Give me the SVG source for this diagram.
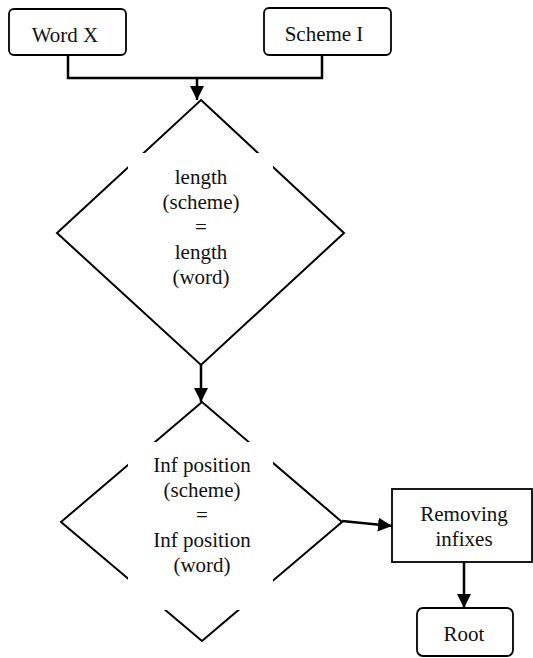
<svg xmlns="http://www.w3.org/2000/svg" width="533" height="658" viewBox="0 0 533 658">
<style>
.box{fill:#fff;stroke:#000;stroke-width:1.8}
.dia{fill:#fff;stroke:#000;stroke-width:2}
.mask{fill:#fff;stroke:none}
.t{font-family:"Liberation Serif","Times New Roman",serif;font-size:21px;fill:#111;text-anchor:middle}
.c{fill:none;stroke:#000;stroke-width:2.5}
</style>
<defs>
<marker id="ah" markerWidth="14" markerHeight="14" viewBox="0 0 14 14" refX="14" refY="7" orient="auto" markerUnits="userSpaceOnUse">
<path d="M0,0 L14,7 L0,14 Z" fill="#000"/>
</marker>
</defs>
<g id="word">
<rect class="box" x="9" y="9" width="117" height="46" rx="5"/>
<text class="t" x="65" y="42">Word X</text>
</g>
<g id="scheme">
<rect class="box" x="264" y="8" width="127" height="47" rx="5"/>
<text class="t" x="324" y="41">Scheme I</text>
</g>
<g id="cond1">
<polygon class="dia" points="201,100 344,233 201,365 57,233"/>
<rect class="mask" x="128" y="153" width="145" height="140"/>
<text class="t" x="201" y="184">length</text>
<text class="t" x="201" y="209">(scheme)</text>
<text class="t" x="201" y="234">=</text>
<text class="t" x="201" y="259">length</text>
<text class="t" x="201" y="284">(word)</text>
</g>
<g id="cond2">
<polygon class="dia" points="202,402 342,522 202,641 61,522"/>
<rect class="mask" x="128" y="442" width="145" height="168"/>
<text class="t" x="202" y="472">Inf position</text>
<text class="t" x="202" y="497">(scheme)</text>
<text class="t" x="202" y="522">=</text>
<text class="t" x="202" y="547">Inf position</text>
<text class="t" x="202" y="572">(word)</text>
</g>
<g id="remove">
<rect class="box" x="392" y="489" width="140" height="73"/>
<text class="t" x="464" y="521">Removing</text>
<text class="t" x="464" y="546">infixes</text>
</g>
<g id="root">
<rect class="box" x="417" y="608" width="96" height="48" rx="6"/>
<text class="t" x="464" y="641">Root</text>
</g>
<g id="connectors">
<polyline class="c" points="68,55 68,78 322,78 322,55"/>
<line class="c" x1="197" y1="78" x2="197" y2="100" marker-end="url(#ah)"/>
<line class="c" x1="201" y1="365" x2="201" y2="402" marker-end="url(#ah)"/>
<line class="c" x1="342" y1="521" x2="392" y2="526" marker-end="url(#ah)"/>
<line class="c" x1="464" y1="562" x2="464" y2="608" marker-end="url(#ah)"/>
</g>
</svg>
